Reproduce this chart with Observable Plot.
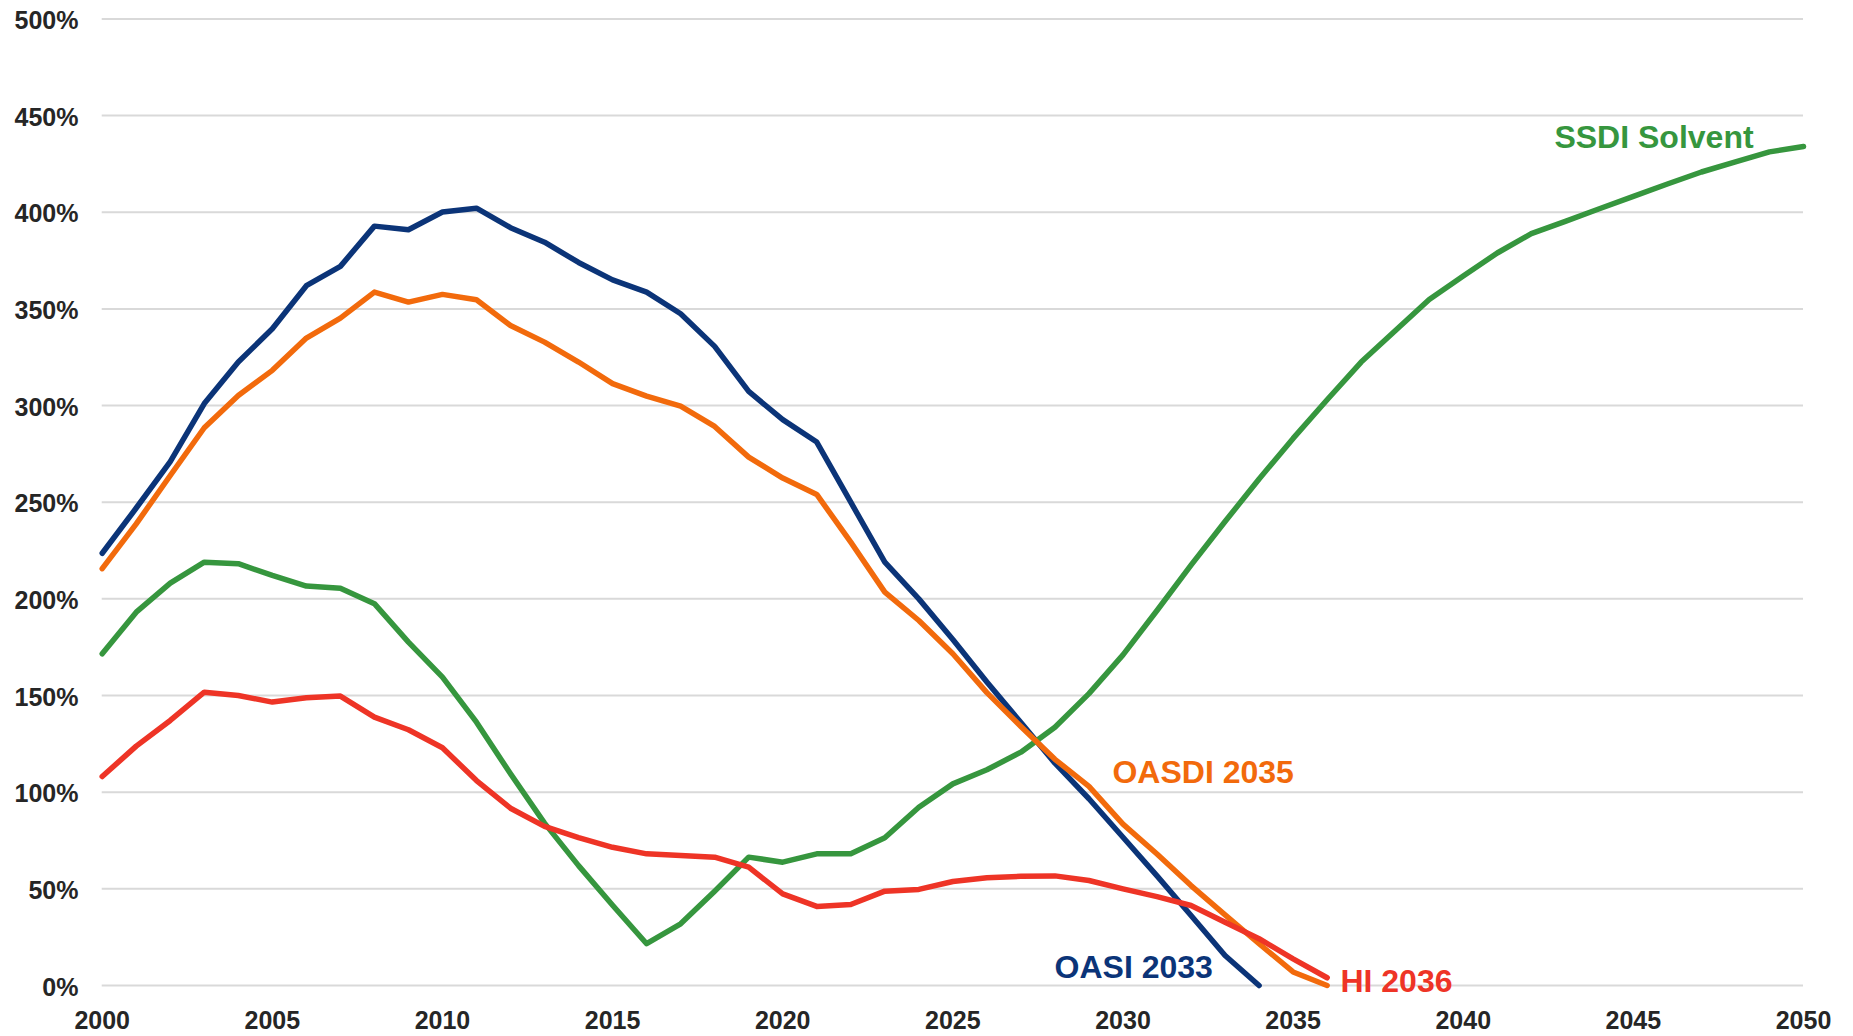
<!DOCTYPE html>
<html>
<head>
<meta charset="utf-8">
<script src="https://cdn.jsdelivr.net/npm/d3@7"></script>
<script src="https://cdn.jsdelivr.net/npm/@observablehq/plot@0.6"></script>
<style>
  html, body { margin: 0; padding: 0; background: #ffffff; }
  #chart svg { display: block; }
</style>
</head>
<body>
<div id="chart"></div>
<script>
// ---- Data (trust fund ratios, % ) ----
const years = [2000,2001,2002,2003,2004,2005,2006,2007,2008,2009,
               2010,2011,2012,2013,2014,2015,2016,2017,2018,2019,
               2020,2021,2022,2023,2024,2025,2026,2027,2028,2029,
               2030,2031,2032,2033,2034,2035,2036,2037,2038,2039,
               2040,2041,2042,2043,2044,2045,2046,2047,2048,2049,2050];

const oasi = [223.6,247,271,301,322.5,339.7,362,372,392.8,390.9,
              400.1,402.1,392,384.5,374,365,358.7,347.5,330.6,307.3,
              292.7,281.1,250,219,200,179,157,136,115,96.6,
              76.7,56.7,36.2,15.5,0];

const oasdi = [215.6,238.8,263.8,288.5,305.2,318.2,334.9,345.2,358.7,353.5,
               357.5,354.7,341.4,332.8,322.5,311.3,304.9,299.7,289.2,273.3,
               262.5,254,229.3,203.5,188.8,171.6,151.5,134,117,103,
               83.5,68,51.7,36.5,21.6,7,0];

const ssdi = [171.6,193.1,208.1,219,218.2,212.1,206.6,205.5,197.5,177.6,
              159.5,136.2,109.5,84,62,41.5,21.6,31.9,48.8,66.4,
              63.8,68.1,68.1,76.4,92.2,104.3,111.6,120.7,133.6,151,
              171,194,217.5,240,262,283,303,322.5,338.7,354.9,
              367,378.9,388.9,395.3,401.8,408.2,414.6,420.8,426,431.2,434];

const hi = [108.1,123.8,137.1,151.7,150,146.6,148.8,149.7,138.8,132.3,
            123,106,91.7,82.3,76.5,71.5,68.1,67.3,66.4,61.2,
            47.4,40.9,41.9,48.8,49.7,53.8,55.7,56.5,56.7,54.3,
            50,46,41.4,32.7,24.2,13.8,4];

const xTicks = [2000,2005,2010,2015,2020,2025,2030,2035,2040,2045,2050];
const yTicks = [0,50,100,150,200,250,300,350,400,450,500];

const seriesNames = ["OASI", "OASDI", "SSDI", "HI"];
const seriesColors = ["#0b3478", "#f26a0c", "#36963e", "#ee3426"];

// label annotations: text, anchor year, anchor value (baseline), series index
const labelTexts = ["SSDI Solvent", "OASDI 2035", "OASI 2033", "HI 2036"];
const labelYears = [2042.68, 2029.69, 2027.99, 2036.39];
const labelValues = [433.2, 104.7, 3.8, -3.5];
const labelSeries = [2, 1, 0, 3];

// ---- Build tidy tables ----
function toRows(values, name) {
  return values.map((v, i) => ({year: years[i], value: v, series: name}))
               .filter(d => d.value != null);
}
const rows = {
  OASI: toRows(oasi, "OASI"),
  OASDI: toRows(oasdi, "OASDI"),
  SSDI: toRows(ssdi, "SSDI"),
  HI: toRows(hi, "HI")
};
const colorOf = name => seriesColors[seriesNames.indexOf(name)];
const labels = labelTexts.map((t, i) => ({
  text: t, year: labelYears[i], value: labelValues[i],
  color: seriesColors[labelSeries[i]]
}));

const FONT = "'Liberation Sans', Arial, Helvetica, sans-serif";
const drawOrder = ["OASI", "SSDI", "OASDI", "HI"];

const chart = Plot.plot({
  width: 1853,
  height: 1036,
  marginLeft: 101.7,
  marginRight: 50,
  marginTop: 18.4,
  marginBottom: 51,
  style: {fontFamily: FONT, background: "#ffffff"},
  x: {domain: [2000, 2050], label: null},
  y: {domain: [0, 500], label: null},
  marks: [
    Plot.gridY(yTicks, {stroke: "#d9d9d9", strokeOpacity: 1, strokeWidth: 2}),
    Plot.axisY({
      ticks: yTicks, tickFormat: d => d + "%", tickSize: 0, tickPadding: 23.7,
      fontSize: 25, fontWeight: "bold", fill: "#262626", dy: 2, label: null
    }),
    Plot.axisX({
      ticks: xTicks, tickFormat: d => String(d), tickSize: 0, tickPadding: 25.5,
      fontSize: 25, fontWeight: "bold", fill: "#262626", label: null
    }),
    ...drawOrder.map(name => Plot.line(rows[name], {
      x: "year", y: "value",
      stroke: colorOf(name), strokeWidth: 5.5,
      strokeLinejoin: "round", strokeLinecap: "round"
    })),
    Plot.text(labels, {
      x: "year", y: "value", text: "text", fill: "color",
      textAnchor: "start", lineAnchor: "bottom",
      fontSize: 32, fontWeight: "bold", fontFamily: FONT
    })
  ]
});

document.getElementById("chart").appendChild(chart);
</script>
</body>
</html>
